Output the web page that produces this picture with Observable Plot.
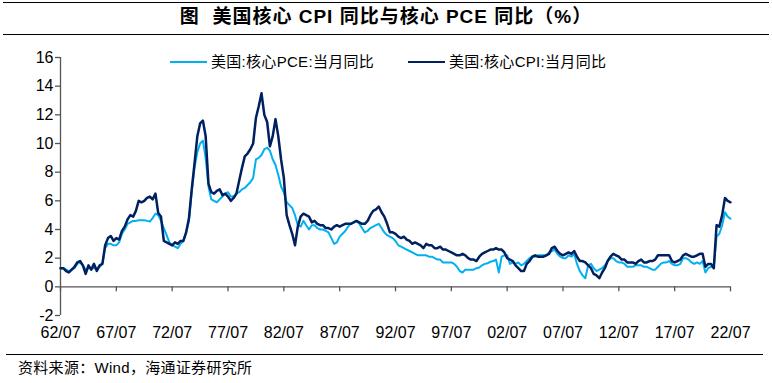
<!DOCTYPE html>
<html><head><meta charset="utf-8">
<script src="https://cdn.jsdelivr.net/npm/d3@7"></script>
<script src="https://cdn.jsdelivr.net/npm/@observablehq/plot@0.6"></script>
<style>
body{margin:0;background:#fff;}
#wrap{position:relative;width:772px;height:383px;overflow:hidden;background:#fff;font-family:"Liberation Sans","Noto Sans CJK SC",sans-serif;color:#000;}
#wrap svg{position:absolute;left:0;top:0;}
.hline{position:absolute;height:0;border-top:1.5px solid #000;}
#title{position:absolute;left:0;width:772px;top:4px;text-align:center;font-size:19px;font-weight:bold;line-height:26px;white-space:pre;letter-spacing:1px;}
.leg{position:absolute;top:52px;font-size:15px;line-height:20px;white-space:nowrap;letter-spacing:0.3px;}
.legline{position:absolute;height:0;}
#foot{position:absolute;left:18px;top:358px;font-size:15px;line-height:20px;white-space:pre;letter-spacing:0.3px;}
</style>
</head><body>
<div id="wrap">
  <div class="hline" style="left:3px;width:766px;top:2px;"></div>
  <div id="title">图  美国核心 CPI 同比与核心 PCE 同比（%）</div>
  <div class="hline" style="left:3px;width:766px;top:34px;"></div>
  <div class="legline" style="left:170px;width:37px;top:61px;border-top:2px solid #00B0F0;"></div>
  <div class="leg" style="left:211px;">美国:核心PCE:当月同比</div>
  <div class="legline" style="left:408px;width:37px;top:61px;border-top:2.5px solid #002060;"></div>
  <div class="leg" style="left:449px;">美国:核心CPI:当月同比</div>
  <div class="hline" style="left:6px;width:757px;top:354px;border-top-width:1.5px;"></div>
  <div id="foot">资料来源：Wind，海通证券研究所</div>
</div>
<script>
// Quarterly observations starting 1962-07
const startYear = 1962, startMonth = 6;
const cpiValues = [
  1.3, 1.3,
  1.1, 1.0, 1.2, 1.4,
  1.7, 1.8, 1.5, 0.9,
  1.5, 1.2, 1.6, 1.1,
  1.5, 1.6, 2.9, 3.4,
  3.55, 3.2, 3.4, 3.3,
  3.9, 4.2, 4.7, 5.0,
  4.9, 5.3, 6.0, 5.9,
  6.0, 6.2, 6.3, 6.1,
  6.5, 5.15, 4.9, 3.2,
  3.1, 3.0, 2.9, 3.1,
  3.0, 3.2, 3.2, 3.8,
  4.8, 6.8, 8.6, 10.5,
  11.4, 11.6, 10.5, 7.2,
  6.6, 6.5, 6.7, 6.8,
  6.4, 6.5, 6.3, 6.0,
  6.2, 6.5, 7.4, 8.3,
  9.1, 9.3, 9.6, 10.0,
  11.8, 12.6, 13.5, 12.0,
  11.5, 9.8, 10.5, 11.7,
  10.5, 8.9, 7.6, 5.0,
  4.3, 3.7, 2.9, 4.2,
  4.9, 5.1, 5.0, 4.9,
  4.5, 4.6, 4.4, 4.3,
  4.3, 4.1, 4.1, 4.0,
  4.2, 4.3, 4.2, 4.3,
  4.4, 4.4, 4.4, 4.5,
  4.6, 4.5, 4.4, 4.4,
  4.6, 5.0, 5.3, 5.4,
  5.6, 5.2, 4.9, 4.4,
  3.8, 3.8, 3.7, 3.5,
  3.4, 3.5, 3.3, 3.2,
  3.0, 3.1, 3.0, 2.9,
  2.7, 3.0, 2.9, 2.9,
  2.7, 2.7, 2.8, 2.6,
  2.6, 2.5, 2.4, 2.3,
  2.2, 2.2, 2.3, 2.2,
  2.0, 1.9, 1.9, 1.8,
  2.1, 2.3, 2.4, 2.5,
  2.6, 2.6, 2.7, 2.6,
  2.6, 2.4, 2.0, 1.9,
  1.8, 1.5, 1.3, 1.1,
  1.1, 1.6, 1.8, 2.1,
  2.2, 2.1, 2.1, 2.1,
  2.2, 2.3, 2.7, 2.8,
  2.5, 2.3, 2.2, 2.3,
  2.4, 2.3, 2.5, 2.1,
  1.8, 1.8, 1.7, 1.5,
  1.3, 0.9, 0.8, 0.6,
  1.0, 1.3, 1.8, 2.1,
  2.3, 2.2, 2.1, 1.9,
  1.9, 1.7, 1.7, 1.7,
  1.6, 1.8, 1.9, 1.7,
  1.7, 1.8, 1.8, 1.9,
  2.2, 2.2, 2.2, 2.2,
  2.2, 1.8, 1.7, 1.8,
  1.9, 2.2, 2.3, 2.2,
  2.1, 2.1, 2.2, 2.3,
  2.3, 1.4, 1.6, 1.6,
  1.3, 4.3, 4.2, 5.0,
  6.2, 6.0, 5.9
];
const pceValues = [
  1.3, 1.3,
  1.2, 1.1, 1.2, 1.3,
  1.6, 1.7, 1.5, 1.2,
  1.3, 1.3, 1.3, 1.3,
  1.4, 1.6, 2.7, 3.0,
  3.0, 2.9, 2.9, 3.1,
  3.7, 4.0, 4.4, 4.5,
  4.6, 4.6, 4.65, 4.65,
  4.65, 4.6, 4.55, 4.8,
  5.1, 5.0, 4.6, 4.1,
  3.6, 3.1, 2.9, 2.8,
  2.7, 3.0, 3.2, 3.8,
  4.6, 6.6, 8.3, 9.4,
  10.0, 10.2, 9.0, 7.0,
  6.1, 6.0, 5.9, 6.1,
  6.3, 6.5, 6.6, 6.3,
  6.3, 6.5, 6.6, 6.8,
  6.9, 7.1, 7.3, 7.6,
  8.9, 9.0, 9.2, 9.6,
  9.7, 9.5, 8.9, 8.5,
  7.8, 7.0, 6.6, 5.9,
  5.7, 5.5, 5.0, 4.3,
  4.2, 4.6, 4.3, 4.0,
  4.3, 4.3, 4.1, 4.0,
  4.0, 3.9, 3.8, 3.4,
  3.0, 3.1, 3.5, 3.7,
  3.9, 4.2, 4.4, 4.5,
  4.6, 4.4, 4.1, 3.8,
  3.9, 4.1, 4.2, 4.3,
  4.4, 4.1, 3.8, 3.6,
  3.5, 3.4, 3.2, 2.9,
  2.8, 2.7, 2.6, 2.5,
  2.4, 2.3, 2.2, 2.2,
  2.2, 2.2, 2.1, 2.1,
  2.0, 1.9, 1.9, 1.7,
  1.7, 1.7, 1.7, 1.6,
  1.4, 1.1, 1.0, 1.2,
  1.2, 1.2, 1.2, 1.3,
  1.35, 1.5, 1.6, 1.65,
  1.75, 1.8, 1.9, 1.0,
  2.1, 2.2, 2.2, 1.6,
  1.7, 1.6, 1.7, 1.5,
  1.6, 1.8, 2.0, 2.1,
  2.1, 2.2, 2.2, 2.2,
  2.2, 2.4, 2.5, 2.6,
  2.3, 2.1, 2.0, 2.0,
  2.2, 2.1, 2.3, 1.6,
  1.1, 0.8, 0.6, 1.5,
  1.6, 1.3, 1.1, 1.2,
  1.3, 1.5, 1.8, 2.0,
  2.0, 1.8, 1.7, 1.7,
  1.6, 1.4, 1.4, 1.4,
  1.5, 1.5, 1.5, 1.4,
  1.4, 1.3, 1.2, 1.2,
  1.4, 1.6, 1.7, 1.7,
  1.8, 1.6, 1.5, 1.5,
  1.6, 2.0, 2.0, 1.9,
  1.7, 1.6, 1.7, 1.6,
  1.8, 1.0, 1.3, 1.4,
  1.4, 3.5, 3.7, 4.3,
  5.2, 4.9, 4.75
];
const yTicks = [-2, 0, 2, 4, 6, 8, 10, 12, 14, 16];
const tickYears = [1962, 1967, 1972, 1977, 1982, 1987, 1992, 1997, 2002, 2007, 2012, 2017, 2022];
const tickLabels = ["62/07","67/07","72/07","77/07","82/07","87/07","92/07","97/07","02/07","07/07","12/07","17/07","22/07"];

const toDate = i => new Date(Date.UTC(startYear, startMonth + 3 * i, 1));
const cpi = cpiValues.map((v, i) => ({date: toDate(i), value: v}));
const pce = pceValues.map((v, i) => ({date: toDate(i), value: v}));
const tickDates = tickYears.map(y => new Date(Date.UTC(y, 6, 1)));
const x0 = tickDates[0], x1 = tickDates[tickDates.length - 1];
const axisColor = "#555";

const chart = Plot.plot({
  width: 772, height: 383,
  marginLeft: 60, marginRight: 42, marginTop: 57, marginBottom: 68,
  x: {type: "utc", domain: [x0, x1], axis: null},
  y: {domain: [-2, 16], axis: null},
  style: {background: "transparent", fontFamily: "'Liberation Sans', Arial, sans-serif", color: "#000", overflow: "visible"},
  marks: [
    Plot.ruleX([x0], {y1: -2, y2: 16, stroke: axisColor, strokeWidth: 1.3}),
    Plot.ruleY(yTicks, {x1: x0, x2: x0, insetLeft: -5, stroke: axisColor, strokeWidth: 1.3}),
    Plot.text(yTicks, {x: x0, y: d => d, text: d => String(d), textAnchor: "end", dx: -7, fontSize: 16, fill: "#000"}),
    Plot.ruleY([0], {x1: x0, x2: x1, stroke: axisColor, strokeWidth: 1.3}),
    Plot.ruleX(tickDates, {y1: 0, y2: 0, insetBottom: -5, stroke: axisColor, strokeWidth: 1.3}),
    Plot.text(tickDates, {x: d => d, y: -2, dy: 17, text: (d, i) => tickLabels[i], fontSize: 16, fill: "#000"}),
    Plot.line(pce, {x: "date", y: "value", stroke: "#00B0F0", strokeWidth: 2}),
    Plot.line(cpi, {x: "date", y: "value", stroke: "#002060", strokeWidth: 2.5})
  ]
});
document.getElementById("wrap").appendChild(chart);
</script>
</body></html>
